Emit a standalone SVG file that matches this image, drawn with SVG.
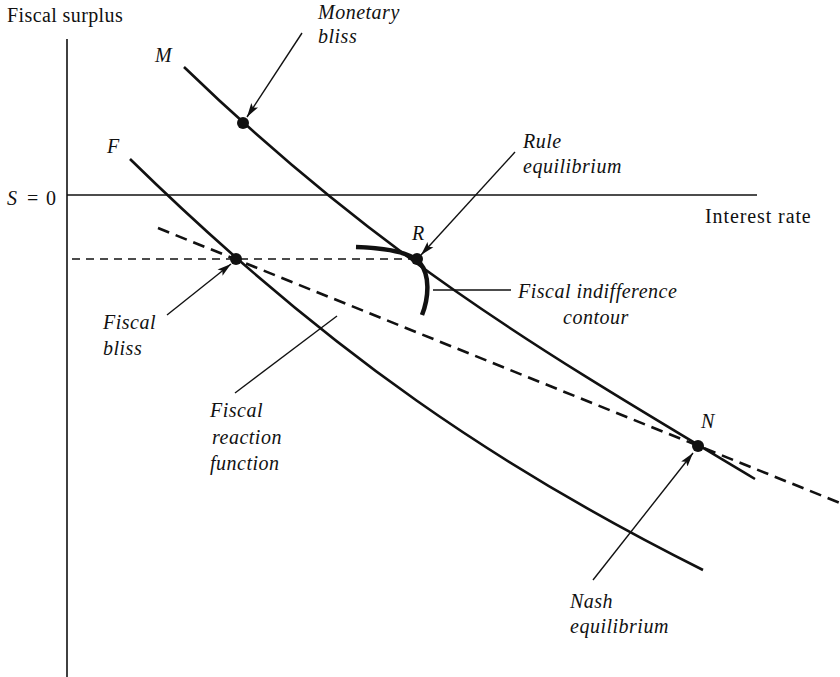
<svg xmlns="http://www.w3.org/2000/svg" width="840" height="677" viewBox="0 0 840 677">
  <defs>
    <marker id="arrow" markerUnits="userSpaceOnUse" markerWidth="15" markerHeight="10" refX="14" refY="5" orient="auto">
      <path d="M0,1 L14,5 L0,9 L3,5 Z" fill="#111"/>
    </marker>
    <style>
      text { font-family: "Liberation Serif", "Times New Roman", serif; font-size: 20px; fill: #111; }
      .it { font-style: italic; letter-spacing: 0.5px; }
      .axis { stroke: #111; stroke-width: 1.6; fill: none; }
      .curve { stroke: #111; stroke-width: 2.6; fill: none; }
      .contour { stroke: #111; stroke-width: 4.5; fill: none; stroke-linecap: butt; }
      .guide { stroke: #111; stroke-width: 1.3; fill: none; stroke-dasharray: 8 6; }
      .reaction { stroke: #111; stroke-width: 2.6; fill: none; stroke-dasharray: 12 7; }
      .leader { stroke: #111; stroke-width: 1.4; fill: none; }
      .dot { fill: #111; }
    </style>
  </defs>

  <!-- axes -->
  <g id="axes">
    <line class="axis" x1="67" y1="39" x2="67" y2="677"/>
    <line class="axis" x1="67" y1="195" x2="757" y2="195"/>
    <text x="7" y="22" style="letter-spacing:0.4px">Fiscal surplus</text>
    <text y="205"><tspan class="it" x="7">S</tspan><tspan x="27">=</tspan><tspan x="46">0</tspan></text>
    <text x="705" y="223" style="letter-spacing:0.9px">Interest rate</text>
  </g>

  <!-- curves and guide lines -->
  <g id="connectors">
    <path id="curve-M" class="curve" d="M184,67 C384,261 555,359 755,479"/>
    <path id="curve-F" class="curve" d="M130,159 C330,355 503,470 703,570"/>
    <line class="guide" x1="72" y1="259" x2="412" y2="259"/>
    <line class="reaction" x1="158" y1="228" x2="840" y2="503"/>
    <path class="contour" d="M356,247 C390,248 412,254 420,263 C430,275 429,297 422,315"/>

    <line class="leader" x1="302" y1="33" x2="247" y2="117" marker-end="url(#arrow)"/>
    <line class="leader" x1="515" y1="152" x2="421" y2="255" marker-end="url(#arrow)"/>
    <line class="leader" x1="167" y1="315" x2="231" y2="264" marker-end="url(#arrow)"/>
    <line class="leader" x1="593" y1="580" x2="693" y2="453" marker-end="url(#arrow)"/>
    <line class="leader" x1="433" y1="290" x2="511" y2="290"/>
    <line class="leader" x1="337" y1="316" x2="235" y2="393"/>
  </g>

  <g id="label-M"><text class="it" x="155" y="62">M</text></g>
  <g id="label-F"><text class="it" x="107" y="153">F</text></g>

  <g id="monetary-bliss">
    <circle class="dot" cx="243" cy="123" r="6"/>
    <text class="it" x="318" y="19">Monetary</text>
    <text class="it" x="318" y="43">bliss</text>
  </g>

  <g id="rule-equilibrium">
    <circle class="dot" cx="417" cy="259" r="6"/>
    <text class="it" x="412" y="240">R</text>
    <text class="it" x="523" y="148">Rule</text>
    <text class="it" x="523" y="173">equilibrium</text>
  </g>

  <g id="fiscal-bliss">
    <circle class="dot" cx="236" cy="259" r="6"/>
    <text class="it" x="103" y="329">Fiscal</text>
    <text class="it" x="103" y="355">bliss</text>
  </g>

  <g id="fiscal-indifference">
    <text class="it" x="518" y="298">Fiscal indifference</text>
    <text class="it" x="563" y="324">contour</text>
  </g>

  <g id="fiscal-reaction">
    <text class="it" x="210" y="417">Fiscal</text>
    <text class="it" x="212" y="444">reaction</text>
    <text class="it" x="210" y="470">function</text>
  </g>

  <g id="nash-equilibrium">
    <circle class="dot" cx="698" cy="446" r="6"/>
    <text class="it" x="701" y="428">N</text>
    <text class="it" x="570" y="608">Nash</text>
    <text class="it" x="570" y="633">equilibrium</text>
  </g>
</svg>
